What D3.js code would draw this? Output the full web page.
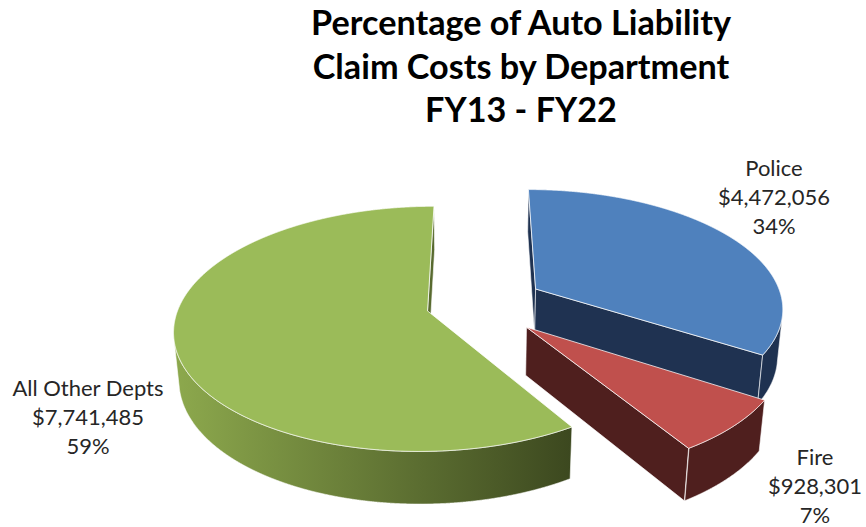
<!DOCTYPE html>
<html><head><meta charset="utf-8">
<script src="https://cdn.jsdelivr.net/npm/d3@7"></script>
<style>html,body{margin:0;padding:0;background:#fff;} svg{display:block;}</style>
</head><body>
<svg id="chart" width="866" height="527"></svg>
<script>
// ---- data ----
const titleLines = ["Percentage of Auto Liability", "Claim Costs by Department", "FY13 - FY22"];
const categories = ["Police", "Fire", "All Other Depts"];
const values = [4472056, 928301, 7741485];
const valueLabels = ["$4,472,056", "$928,301", "$7,741,485"];
const percentLabels = ["34%", "7%", "59%"];

// ---- style / layout ----
const topColors = ["#4F81BD", "#C0504D", "#9BBB59"];
const sideColors = [["#1F3251", "#1F3251"], ["#4F1F1E", "#4F1F1E"], ["#8DA94D", "#3C481F"]];
const explode = [0.27, 0.27, 0.21];
const labelAnchors = [[774, 176], [815, 465], [88, 396]];
const lineGap = 28.8;

const svg = d3.select("#chart");
const defs = svg.append("defs");

// camera / projection
const phi = 28.4 * Math.PI / 180, D = 6.05, F = 1500, CX = 478, CY = 304, T = 0.22;
const sinP = Math.sin(phi), cosP = Math.cos(phi);
function proj(X, Y, Z) { const d = D + Z * cosP - Y * sinP; return [CX + F * X / d, CY - F * (Z * sinP + Y * cosP) / d]; }
const cam = [0, D * sinP, -D * cosP];
function facing(n, p) { return n[0] * (cam[0] - p[0]) + n[1] * (cam[1] - p[1]) + n[2] * (cam[2] - p[2]) > 0; }

const arcs = d3.pie().sort(null).value(d => d).startAngle(0).endAngle(2 * Math.PI)(values);
const line = d3.line();

const slices = arcs.map((a, i) => {
  const mid = (a.startAngle + a.endAngle) / 2;
  const ox = explode[i] * Math.sin(mid), oz = explode[i] * Math.cos(mid);
  const rim = (t, y) => [ox + Math.sin(t), y, oz + Math.cos(t)];
  return { i, a0: a.startAngle, a1: a.endAngle, ox, oz, rim };
});

// drawing order: back to front
const order = [0, 2, 1];
const edge = "rgba(255,255,255,0.75)";

order.forEach(k => {
  const s = slices[k];
  const g = svg.append("g");
  const P = p => proj(p[0], p[1], p[2]);
  const apexTop = [s.ox, 0, s.oz], apexBot = [s.ox, -T, s.oz];

  const gid = "side" + k;
  let xs = [];
  for (let t = s.a0; t <= s.a1 + 1e-9; t += 0.01) xs.push(P(s.rim(t, 0))[0]);
  xs.push(P(apexTop)[0]);
  const grad = defs.append("linearGradient").attr("id", gid).attr("gradientUnits", "userSpaceOnUse")
    .attr("x1", d3.min(xs)).attr("x2", d3.max(xs)).attr("y1", 0).attr("y2", 0);
  grad.append("stop").attr("offset", 0).attr("stop-color", sideColors[k][0]);
  grad.append("stop").attr("offset", 1).attr("stop-color", sideColors[k][1]);

  // radial faces
  [[s.a0, s.a0 - Math.PI / 2], [s.a1, s.a1 + Math.PI / 2]].forEach(([t, nt]) => {
    const n = [Math.sin(nt), 0, Math.cos(nt)];
    const r = s.rim(t, -T / 2);
    const c = [(r[0] + s.ox) / 2, -T / 2, (r[2] + s.oz) / 2];
    if (facing(n, c)) {
      const pts = [apexTop, s.rim(t, 0), s.rim(t, -T), apexBot].map(P);
      g.append("path").attr("d", line(pts) + "Z").attr("fill", `url(#${gid})`)
        .attr("stroke", edge).attr("stroke-width", 0.8).attr("stroke-linejoin", "round");
    }
  });

  // outer wall (visible ranges)
  const step = 0.002;
  let ranges = [], cur = null;
  for (let t = s.a0; t <= s.a1 + 1e-9; t += step) {
    const tt = Math.min(t, s.a1);
    const vis = facing([Math.sin(tt), 0, Math.cos(tt)], s.rim(tt, -T / 2));
    if (vis) { if (!cur) { cur = [tt, tt]; ranges.push(cur); } cur[1] = tt; } else cur = null;
  }
  ranges.forEach(([t0, t1]) => {
    const top = [], bot = [];
    for (let t = t0; t <= t1 + 1e-9; t += step) { top.push(P(s.rim(t, 0))); bot.push(P(s.rim(t, -T))); }
    top.push(P(s.rim(t1, 0))); bot.push(P(s.rim(t1, -T)));
    const pts = top.concat(bot.reverse());
    g.append("path").attr("d", line(pts) + "Z").attr("fill", `url(#${gid})`)
      .attr("stroke", edge).attr("stroke-width", 0.8).attr("stroke-linejoin", "round");
  });

  // top face
  const tp = [P(apexTop)];
  for (let t = s.a0; t <= s.a1 + 1e-9; t += step) tp.push(P(s.rim(t, 0)));
  tp.push(P(s.rim(s.a1, 0)));
  g.append("path").attr("d", line(tp) + "Z").attr("fill", topColors[k])
    .attr("stroke", edge).attr("stroke-width", 1).attr("stroke-linejoin", "round");
});

// ---- title ----
const title = svg.append("g").attr("font-family", "Lato, 'Open Sans', sans-serif").attr("font-weight", "bold").attr("fill", "#000");
const tBase = [35, 78.5, 122];
const tLines = titleLines.map((t, i) => title.append("text").attr("x", 521).attr("y", tBase[i])
  .attr("text-anchor", "middle").attr("font-size", 36).text(t));
const tw = tLines[0].node().getComputedTextLength();
const tSize = 36 * 420 / tw;
tLines.forEach(t => t.attr("font-size", tSize));

// ---- labels ----
const lab = svg.append("g").attr("font-family", "Lato, 'Open Sans', sans-serif").attr("fill", "#262626");
const probe = lab.append("text").attr("font-size", 24).text(valueLabels[0]);
const lSize = 24 * 112 / probe.node().getComputedTextLength();
probe.remove();
categories.forEach((c, i) => {
  const [x, y] = labelAnchors[i];
  [c, valueLabels[i], percentLabels[i]].forEach((txt, j) => {
    lab.append("text").attr("x", x).attr("y", y + j * lineGap).attr("text-anchor", "middle")
      .attr("font-size", lSize).text(txt);
  });
});
</script>
</body></html>
